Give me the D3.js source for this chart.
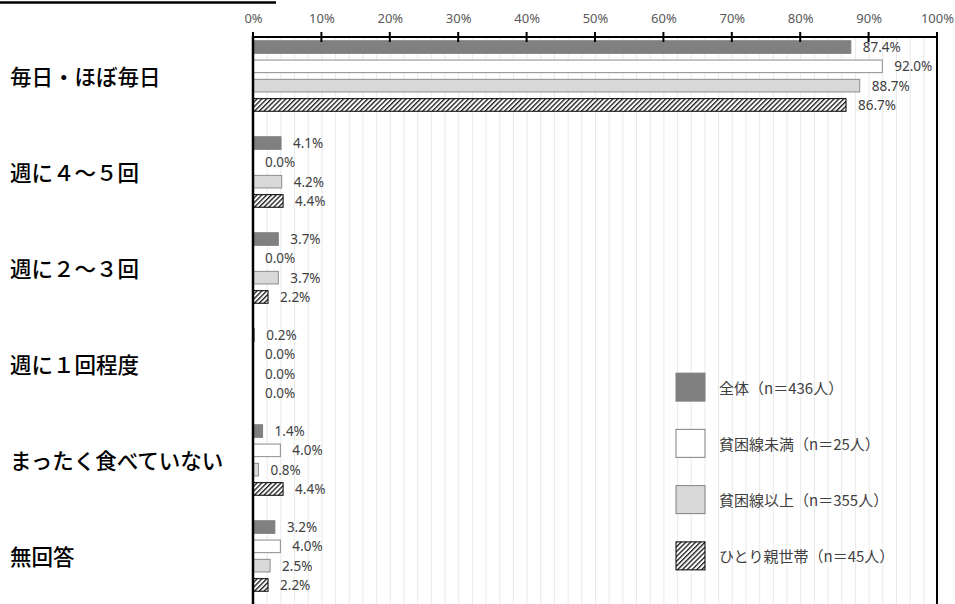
<!DOCTYPE html>
<html><head><meta charset="utf-8">
<script src="https://cdn.jsdelivr.net/npm/d3@7"></script>
<style>html,body{margin:0;padding:0;background:#fff;overflow:hidden}</style>
</head><body>
<svg id="c" width="955" height="604"></svg>
<script>
const categories = ["毎日・ほぼ毎日","週に４～５回","週に２～３回","週に１回程度","まったく食べていない","無回答"];
const seriesNames = ["全体（n＝436人）","貧困線未満（n＝25人）","貧困線以上（n＝355人）","ひとり親世帯（n＝45人）"];
const valsAll   = [87.4, 4.1, 3.7, 0.2, 1.4, 3.2];
const valsBelow = [92.0, 0.0, 0.0, 0.0, 4.0, 4.0];
const valsAbove = [88.7, 4.2, 3.7, 0.0, 0.8, 2.5];
const valsSingle= [86.7, 4.4, 2.2, 0.0, 4.4, 2.2];
const tickValues = [0,10,20,30,40,50,60,70,80,90,100];
const seriesValues = [valsAll, valsBelow, valsAbove, valsSingle];

const svg = d3.select("#c");
const defs = svg.append("defs");
const pat = defs.append("pattern").attr("id","hatch").attr("patternUnits","userSpaceOnUse")
  .attr("width",3.4).attr("height",3.4).attr("patternTransform","rotate(45)");
pat.append("rect").attr("width",3.4).attr("height",3.4).attr("fill","#fff");
pat.append("line").attr("x1",0.7).attr("y1",0).attr("x2",0.7).attr("y2",3.4).attr("stroke","#000").attr("stroke-width",1.2);

const styles = [
  {fill:"#808080", stroke:"#808080"},
  {fill:"#ffffff", stroke:"#8c8c8c"},
  {fill:"#d9d9d9", stroke:"#8c8c8c"},
  {fill:"url(#hatch)", stroke:"#000000"}
];

const x = d3.scaleLinear().domain([0,100]).range([253,937]);
const y0 = d3.scaleBand().domain(categories).range([28,604]);
const y1 = d3.scaleBand().domain(seriesNames).range([0,y0.bandwidth()]).paddingInner(0.347).paddingOuter(0.66);
const axisY = 37, bottomY = 604;

// title underline (cropped title)
svg.append("line").attr("x1",0).attr("x2",276).attr("y1",2.5).attr("y2",2.5).attr("stroke","#000").attr("stroke-width",2.5);

// minor gridlines every 2%
svg.append("g").selectAll("line").data(d3.range(2,100,2)).join("line")
  .attr("x1",d=>x(d)+0.5).attr("x2",d=>x(d)+0.5).attr("y1",axisY).attr("y2",bottomY)
  .attr("stroke","#e9e9e9").attr("stroke-width",1);

// bars
const groups = svg.append("g").selectAll("g").data(categories).join("g")
  .attr("transform",c=>`translate(0,${y0(c)})`);
groups.each(function(c,ci){
  const g = d3.select(this);
  seriesNames.forEach((s,si)=>{
    const v = seriesValues[si][ci];
    if (v > 0) {
      g.append("rect").attr("x",x(0)).attr("y",y1(s)).attr("width",x(v)-x(0)).attr("height",y1.bandwidth())
        .attr("fill",styles[si].fill).attr("stroke",styles[si].stroke).attr("stroke-width",1);
    }
    g.append("text").attr("x",x(v)+12).attr("y",y1(s)+y1.bandwidth()/2)
      .attr("dominant-baseline","central").attr("font-family","'Noto Sans',sans-serif")
      .attr("font-size","13.5px").attr("fill","#404040").text(v.toFixed(1)+"%");
  });
});

// axis frame
svg.append("line").attr("x1",x(0)).attr("x2",x(100)).attr("y1",axisY).attr("y2",axisY).attr("stroke","#000").attr("stroke-width",2);
svg.append("line").attr("x1",x(0)).attr("x2",x(0)).attr("y1",axisY-1).attr("y2",bottomY).attr("stroke","#000").attr("stroke-width",2.5);
svg.append("line").attr("x1",x(100)).attr("x2",x(100)).attr("y1",axisY-5).attr("y2",bottomY).attr("stroke","#000").attr("stroke-width",2);
svg.append("g").selectAll("line").data(tickValues).join("line")
  .attr("x1",d=>x(d)).attr("x2",d=>x(d)).attr("y1",axisY-5).attr("y2",axisY+5)
  .attr("stroke","#000").attr("stroke-width",2);

const ax = svg.append("g").attr("transform",`translate(0,${axisY})`)
  .call(d3.axisTop(x).tickValues(tickValues).tickSize(0).tickPadding(14).tickFormat(d=>d+"%"));
ax.select(".domain").remove();
ax.selectAll("text").attr("font-family","'Noto Sans',sans-serif").attr("font-size","13px").attr("fill","#595959");

// category labels
svg.append("g").selectAll("text").data(categories).join("text")
  .attr("x",10).attr("y",c=>y0(c)+y0.bandwidth()/2-1)
  .attr("dominant-baseline","central")
  .attr("font-family","'Noto Sans CJK JP',sans-serif").attr("font-weight",500)
  .attr("font-size","21.5px").attr("fill","#000").text(c=>c);

// legend
const ly = d3.scaleBand().domain(seriesNames).range([359,584]);
const leg = svg.append("g").selectAll("g").data(seriesNames).join("g")
  .attr("transform",s=>`translate(676,${ly(s)+ly.bandwidth()/2})`);
leg.append("rect").attr("x",0).attr("y",-14).attr("width",29).attr("height",28)
  .attr("fill",(s,i)=>styles[i].fill).attr("stroke",(s,i)=>i===3?"#000":"#808080").attr("stroke-width",1);
leg.append("text").attr("x",43).attr("y",0).attr("dominant-baseline","central")
  .attr("font-family","'Noto Sans CJK JP',sans-serif").attr("font-size","15px").attr("fill","#404040").text(s=>s);
</script>
</body></html>
